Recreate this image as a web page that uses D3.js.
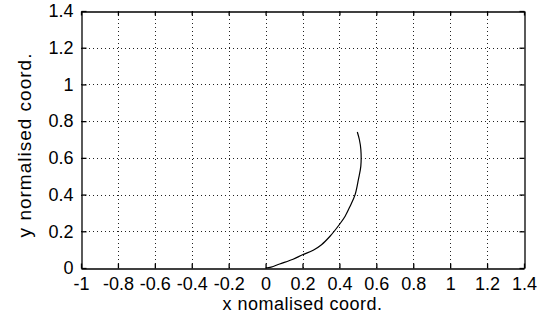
<!DOCTYPE html>
<html lang="en">
<head>
<meta charset="utf-8">
<title>Normalised coordinates</title>
<script src="https://cdn.jsdelivr.net/npm/d3@7"></script>
<style type="text/css">
body { margin: 0; background: #fff; }
text { font-family: "Liberation Sans", Arial, sans-serif; fill: #000; }
.grid line { stroke: #222; stroke-width: 1; stroke-dasharray: 1,3; }
</style>
</head>
<body>
<script type="text/javascript">

// trajectory
var xVals = [0, 0.03, 0.076, 0.149, 0.2, 0.258, 0.303, 0.349, 0.4, 0.431, 0.458, 0.485, 0.503, 0.516, 0.516, 0.508, 0.497];
var yVals = [0, 0.005, 0.022, 0.048, 0.072, 0.097, 0.127, 0.173, 0.237, 0.282, 0.337, 0.4, 0.483, 0.555, 0.647, 0.70, 0.741];

var xTicks = [-1, -0.8, -0.6, -0.4, -0.2, 0, 0.2, 0.4, 0.6, 0.8, 1, 1.2, 1.4];
var yTicks = [0, 0.2, 0.4, 0.6, 0.8, 1, 1.2, 1.4];

var xLabel = "x nomalised coord.";
var yLabel = "y normalised coord.";

var width = 541, height = 327;
var pLeft = 81, pRight = 524, pTop = 11, pBottom = 268;

var svg = d3.select("body")
            .append("svg")
            .attr("width", width)
            .attr("height", height);

var x = d3.scaleLinear().domain([-1, 1.4]).range([pLeft, pRight]);
var y = d3.scaleLinear().domain([0, 1.4]).range([pBottom, pTop]);

//Grid
var grid = svg.append("g").attr("class", "grid");

grid.selectAll(".vx")
    .data(xTicks.slice(1, -1))
    .enter()
    .append("line")
    .attr("x1", function(d){ return Math.round(x(d)) + 0.5; })
    .attr("x2", function(d){ return Math.round(x(d)) + 0.5; })
    .attr("y1", pTop)
    .attr("y2", pBottom);

grid.selectAll(".hy")
    .data(yTicks.slice(1, -1))
    .enter()
    .append("line")
    .attr("y1", function(d){ return Math.round(y(d)) + 0.5; })
    .attr("y2", function(d){ return Math.round(y(d)) + 0.5; })
    .attr("x1", pLeft)
    .attr("x2", pRight);

//Axes (box with inward ticks on all sides)
var fmt = function(d){ return String(d); };

svg.append("g")
   .attr("transform", "translate(0," + (pBottom + 0.5) + ")")
   .call(d3.axisBottom(x).tickValues(xTicks).tickSizeInner(-5).tickSizeOuter(0).tickPadding(9).tickFormat(fmt))
   .call(function(g){ g.selectAll("text").style("font-size", "18px"); });

svg.append("g")
   .attr("transform", "translate(0," + (pTop + 0.5) + ")")
   .call(d3.axisTop(x).tickValues(xTicks).tickSizeInner(-4).tickSizeOuter(0).tickFormat(""));

svg.append("g")
   .attr("transform", "translate(" + (pLeft + 0.5) + ",0)")
   .call(d3.axisLeft(y).tickValues(yTicks).tickSizeInner(-5).tickSizeOuter(0).tickPadding(8).tickFormat(fmt))
   .call(function(g){ g.selectAll("text").style("font-size", "18px"); });

svg.append("g")
   .attr("transform", "translate(" + (pRight + 0.5) + ",0)")
   .call(d3.axisRight(y).tickValues(yTicks).tickSizeInner(-5).tickSizeOuter(0).tickFormat(""));

svg.selectAll(".domain").attr("stroke", "#000").attr("stroke-width", 1.3);
svg.selectAll(".tick line").attr("stroke", "#000").attr("stroke-width", 1.3);
svg.selectAll(".tick text").attr("font-family", null);

//Curve
var line = d3.line()
             .curve(d3.curveCatmullRom)
             .x(function(d){ return x(d[0]); })
             .y(function(d){ return y(d[1]); });

svg.append("path")
   .datum(d3.zip(xVals, yVals))
   .attr("d", line)
   .attr("fill", "none")
   .attr("stroke", "#000")
   .attr("stroke-width", 1.2);

//Labels
svg.append("text")
   .attr("x", (pLeft + pRight) / 2)
   .attr("y", 310)
   .attr("text-anchor", "middle")
   .style("font-size", "18px")
   .style("letter-spacing", "0.5px")
   .text(xLabel);

svg.append("text")
   .attr("transform", "translate(31,145) rotate(-90)")
   .attr("text-anchor", "middle")
   .style("font-size", "19px")
   .style("letter-spacing", "1px")
   .text(yLabel);

</script>
</body>
</html>
